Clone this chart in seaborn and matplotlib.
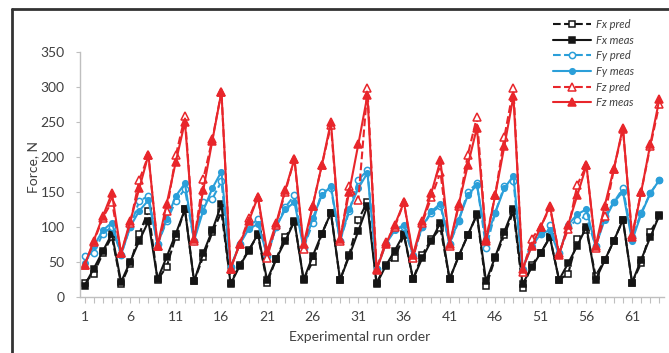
import matplotlib
matplotlib.use("Agg")
import matplotlib.pyplot as plt
from matplotlib.lines import Line2D
import seaborn as sns
import numpy as np

runs = list(range(1, 65))

fx_meas = [16, 40, 65, 90, 21, 50, 80, 108, 25, 57, 90, 125, 22, 62, 95, 132,
           18, 44, 66, 90, 24, 54, 80, 108, 24, 58, 90, 120, 24, 58, 94, 130,
           18, 44, 66, 90, 25, 55, 80, 106, 25, 58, 88, 118, 22, 57, 93, 126,
           18, 42, 63, 85, 24, 48, 73, 100, 24, 52, 80, 110, 20, 53, 85, 117]
fx_pred = [20, 33, 62, 86, 18, 47, 90, 123, 24, 43, 86, 125, 22, 57, 92, 121,
           20, 45, 67, 88, 20, 54, 85, 107, 25, 50, 90, 120, 24, 60, 110, 136,
           20, 45, 56, 88, 25, 60, 82, 98, 25, 58, 88, 117, 15, 55, 88, 122,
           12, 45, 63, 85, 24, 33, 82, 95, 30, 52, 80, 110, 20, 48, 93, 115]
fy_meas = [48, 72, 95, 106, 60, 100, 123, 138, 75, 111, 144, 162, 80, 123, 155, 179,
           42, 75, 97, 104, 60, 100, 125, 135, 70, 112, 145, 158, 80, 125, 155, 177,
           40, 75, 95, 103, 60, 100, 122, 133, 75, 110, 145, 160, 82, 120, 155, 173,
           40, 72, 90, 95, 60, 103, 118, 125, 72, 110, 135, 150, 80, 118, 148, 167]
fy_pred = [58, 63, 90, 100, 60, 100, 137, 144, 75, 108, 137, 154, 80, 135, 140, 165,
           42, 75, 100, 111, 58, 100, 128, 145, 70, 105, 150, 155, 80, 122, 167, 181,
           40, 75, 97, 100, 58, 100, 120, 130, 75, 108, 150, 162, 70, 120, 158, 165,
           38, 80, 90, 102, 62, 100, 110, 115, 72, 115, 135, 155, 85, 120, 148, 167]
fz_meas = [45, 80, 115, 148, 62, 108, 155, 203, 73, 133, 193, 250, 82, 152, 223, 293,
           40, 75, 108, 143, 65, 105, 153, 197, 75, 130, 188, 250, 82, 150, 218, 288,
           38, 75, 103, 135, 60, 108, 148, 195, 75, 132, 188, 242, 80, 145, 215, 287,
           40, 72, 100, 130, 60, 103, 145, 188, 72, 130, 183, 242, 85, 150, 218, 283]
fz_pred = [45, 78, 113, 136, 62, 105, 167, 202, 72, 122, 202, 258, 80, 168, 225, 293,
           40, 76, 112, 143, 55, 103, 150, 197, 68, 130, 188, 245, 80, 158, 138, 298,
           40, 78, 100, 135, 55, 105, 142, 178, 73, 130, 203, 257, 82, 145, 228, 298,
           35, 83, 100, 128, 62, 97, 160, 188, 70, 115, 182, 240, 88, 150, 215, 276]

x_tick_labels = ["1", "6", "11", "16", "21", "26", "31", "36", "41", "46", "51", "56", "61"]
y_ticks = [0, 50, 100, 150, 200, 250, 300, 350]

sns.set_theme(style="white")
plt.rcParams["font.family"] = ["Lato", "DejaVu Sans"]

BLACK = "#151515"
BLUE = "#2b9fd9"
RED = "#e8262b"

fig = plt.figure(figsize=(6.69, 3.53), dpi=100)
ax = fig.add_axes([80 / 669, 1 - 296.7 / 353, 584 / 669, 244.7 / 353])

series = [
    ("Fx pred", fx_pred, BLACK, "--", "s", True, 4.5),
    ("Fx meas", fx_meas, BLACK, "-", "s", False, 4.5),
    ("Fy pred", fy_pred, BLUE, "--", "o", True, 4.5),
    ("Fy meas", fy_meas, BLUE, "-", "o", False, 4.0),
    ("Fz pred", fz_pred, RED, "--", "^", True, 6.0),
    ("Fz meas", fz_meas, RED, "-", "^", False, 6.0),
]
for label, vals, col, ls, mk, hollow, ms in series:
    sns.lineplot(x=runs, y=vals, ax=ax, color=col, linestyle=ls, linewidth=1.5,
                 marker=mk, markersize=ms,
                 markerfacecolor="white" if hollow else col,
                 markeredgecolor=col, markeredgewidth=1.1,
                 label=label, legend=True)

ax.set_xlim(0.5, 64.5)
ax.set_ylim(0, 350)
ax.set_xticks([int(t) for t in x_tick_labels])
ax.set_xticklabels(x_tick_labels)
ax.set_xticks(runs, minor=True)
ax.set_yticks(y_ticks)
ax.set_yticklabels([str(v) for v in y_ticks])

for s in ["top", "right"]:
    ax.spines[s].set_visible(False)
for s in ["left", "bottom"]:
    ax.spines[s].set_color("#bfbfbf")
    ax.spines[s].set_linewidth(1.0)

ax.tick_params(axis="x", which="both", direction="out", length=4, width=0.8,
               color="#bfbfbf", bottom=True)
ax.tick_params(axis="x", which="major", labelsize=10, labelcolor="#404040", pad=6)
ax.tick_params(axis="y", which="major", direction="out", length=3, width=0.8,
               color="#bfbfbf", left=True, labelsize=10, labelcolor="#404040", pad=8)

ax.set_xlabel("Experimental run order", fontsize=10, color="#404040")
ax.set_ylabel("Force, N", fontsize=10, color="#404040")
ax.xaxis.set_label_coords(0.479, -0.14)
ax.yaxis.set_label_coords(-0.07, 0.53)

handles, labels = ax.get_legend_handles_labels()
ax.legend(handles, labels, loc="upper left", bbox_to_anchor=(553 / 669, 1 - 19 / 353),
          bbox_transform=fig.transFigure, frameon=False, handlelength=3.4,
          handletextpad=0.45, labelspacing=0.42, borderpad=0, borderaxespad=0,
          prop={"style": "italic", "size": 8}, labelcolor="#404040")

fig.add_artist(Line2D([12 / 669, 12 / 669], [0, 1 - 9 / 353],
                      transform=fig.transFigure, color="#333333", linewidth=2))
fig.add_artist(Line2D([12 / 669, 1], [1 - 9 / 353, 1 - 9 / 353],
                      transform=fig.transFigure, color="#333333", linewidth=2))

fig.savefig("out.png", dpi=100)
